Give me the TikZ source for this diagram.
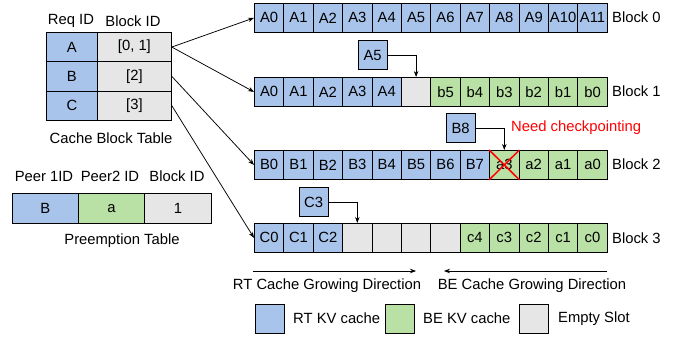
\documentclass[tikz,border=0pt]{standalone}
\usepackage{fontspec}
\setmainfont{Liberation Sans}
\usetikzlibrary{arrows.meta}
\definecolor{rtblue}{HTML}{A9C4EB}
\definecolor{begreen}{HTML}{B9E0A5}
\definecolor{emptygray}{HTML}{E6E6E6}
\newcommand{\fs}{\fontsize{14.8}{16}\selectfont}
\tikzset{
  cellbox/.style={draw=black, line width=0.8pt, minimum width=29.4pt, minimum height=29pt, inner sep=0pt, anchor=north west, font=\fs},
  tabcell/.style={draw=black, line width=0.8pt, inner sep=0pt, anchor=north west, font=\fs},
  lbl/.style={inner sep=0pt, font=\fs},
  conn/.style={line width=0.75pt, -{Stealth[length=6pt,width=4.5pt]}},
  redx/.style={draw=red, line width=1.5pt},
}
\begin{document}
\begin{tikzpicture}[x=1pt,y=-1pt]
\useasboundingbox (0,0) rectangle (678,339);

% ---------- Cache Block Table ----------
\node[lbl] (hreq) at (71,21) {Req ID};
\node[lbl] (hblk) at (133,21) {Block ID};
\node[tabcell, fill=rtblue, minimum width=51pt, minimum height=29.3pt] (tA1) at (46,32) {A};
\node[tabcell, fill=emptygray, minimum width=74pt, minimum height=29.3pt] (tA2) at (97,32) {[0, 1]};
\node[tabcell, fill=rtblue, minimum width=51pt, minimum height=29.3pt] (tB1) at (46,61.3) {B};
\node[tabcell, fill=emptygray, minimum width=74pt, minimum height=29.3pt] (tB2) at (97,61.3) {[2]};
\node[tabcell, fill=rtblue, minimum width=51pt, minimum height=29.3pt] (tC1) at (46,90.6) {C};
\node[tabcell, fill=emptygray, minimum width=74pt, minimum height=29.3pt] (tC2) at (97,90.6) {[3]};
\node[lbl] (cbt) at (111,138) {Cache Block Table};

% ---------- Preemption Table ----------
\node[lbl] (hp1) at (44,176) {Peer 1ID};
\node[lbl] (hp2) at (110,176) {Peer2 ID};
\node[lbl] (hp3) at (177,176) {Block ID};
\node[tabcell, fill=rtblue, minimum width=66pt, minimum height=30pt] (p1) at (12,193) {B};
\node[tabcell, fill=begreen, minimum width=66pt, minimum height=30pt] (p2) at (78,193) {a};
\node[tabcell, fill=emptygray, minimum width=67pt, minimum height=30pt] (p3) at (144,193) {1};
\node[lbl] (pt) at (122,241) {Preemption Table};

% ---------- Blocks ----------
\foreach \lab/\col [count=\i from 0] in {A0/rtblue,A1/rtblue,A2/rtblue,A3/rtblue,A4/rtblue,A5/rtblue,A6/rtblue,A7/rtblue,A8/rtblue,A9/rtblue,A10/rtblue,A11/rtblue}
  \node[cellbox, fill=\col] (r0c\i) at ({254+\i*29.4},3) {\lab};
\foreach \lab/\col [count=\i from 0] in {A0/rtblue,A1/rtblue,A2/rtblue,A3/rtblue,A4/rtblue,{}/emptygray,b5/begreen,b4/begreen,b3/begreen,b2/begreen,b1/begreen,b0/begreen}
  \node[cellbox, fill=\col] (r1c\i) at ({254+\i*29.4},77) {\lab};
\foreach \lab/\col [count=\i from 0] in {B0/rtblue,B1/rtblue,B2/rtblue,B3/rtblue,B4/rtblue,B5/rtblue,B6/rtblue,B7/rtblue,a3/begreen,a2/begreen,a1/begreen,a0/begreen}
  \node[cellbox, fill=\col] (r2c\i) at ({254+\i*29.4},150) {\lab};
\foreach \lab/\col [count=\i from 0] in {C0/rtblue,C1/rtblue,C2/rtblue,{}/emptygray,{}/emptygray,{}/emptygray,{}/emptygray,c4/begreen,c3/begreen,c2/begreen,c1/begreen,c0/begreen}
  \node[cellbox, fill=\col] (r3c\i) at ({254+\i*29.4},223) {\lab};

\node[lbl, anchor=west] (bl0) at (612,17.5) {Block 0};
\node[lbl, anchor=west] (bl1) at (612,91.5) {Block 1};
\node[lbl, anchor=west] (bl2) at (612,164.5) {Block 2};
\node[lbl, anchor=west] (bl3) at (612,238) {Block 3};

% red cross over a3
\draw[redx] (r2c8.north west) -- (r2c8.south east);
\draw[redx] (r2c8.north east) -- (r2c8.south west);

% ---------- incoming tokens ----------
\node[cellbox, fill=rtblue, minimum width=29.5pt, minimum height=29.5pt] (a5) at (357.5,40) {A5};
\node[cellbox, fill=rtblue, minimum width=29.5pt, minimum height=29.5pt] (b8) at (445.5,113) {B8};
\node[cellbox, fill=rtblue, minimum width=29.5pt, minimum height=29.5pt] (c3) at (298.5,187) {C3};
\node[lbl, anchor=west, text=red] (need) at (511,128) {Need checkpointing};

\draw[conn] (a5.east) -| (r1c5.north);
\draw[conn] (b8.east) -| (r2c8.north);
\draw[conn] (c3.east) -| (r3c3.north);

% ---------- table connectors ----------
\draw[conn] (tA2.east) -- (r0c0.west);
\draw[conn] (tA2.east) -- (r1c0.west);
\draw[conn] (tB2.east) -- (r2c0.west);
\draw[conn] (tC2.east) -- (r3c0.west);

% ---------- growing directions ----------
\coordinate (rts) at (253,271);
\coordinate (rte) at (416,271);
\coordinate (bes) at (607,271);
\coordinate (bee) at (444,271);
\draw[conn] (rts) -- (rte);
\draw[conn] (bes) -- (bee);
\node[lbl] (rtl) at (327,286) {RT Cache Growing Direction};
\node[lbl] (bel) at (532,286) {BE Cache Growing Direction};

% ---------- legend ----------
\node[cellbox, fill=rtblue] (lg1) at (255,304) {};
\node[lbl, anchor=west] (lt1) at (293,318.5) {RT KV cache};
\node[cellbox, fill=begreen] (lg2) at (385,304) {};
\node[lbl, anchor=west] (lt2) at (423,318.5) {BE KV cache};
\node[cellbox, fill=emptygray] (lg3) at (519,304) {};
\node[lbl, anchor=west] (lt3) at (558,318.5) {Empty Slot};
\end{tikzpicture}
\end{document}
